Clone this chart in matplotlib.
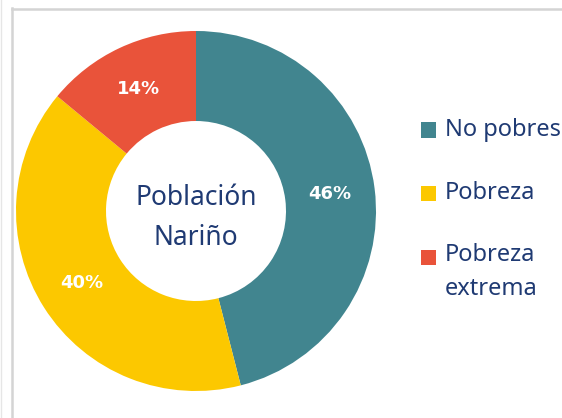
import matplotlib
matplotlib.use('Agg')
import matplotlib.pyplot as plt
from matplotlib.patches import Rectangle
from matplotlib.lines import Line2D

# data
categorias = ['No pobres', 'Pobreza', 'Pobreza\nextrema']
porcentajes = [46, 40, 14]
colores = ['#41858F', '#FCC800', '#E9533A']
centro_txt = 'Población\nNariño'

azul = '#1F3A73'
plt.rcParams['font.family'] = ['Noto Sans', 'DejaVu Sans']

W, H = 562, 418
fig = plt.figure(figsize=(W / 100, H / 100), dpi=100)

# grey frame of the original chart box
fig.add_artist(Line2D([11.5 / W, 11.5 / W], [0, 1 - 8 / H], color='#D4D4D4', lw=1.8))
fig.add_artist(Line2D([11.5 / W, 1], [1 - 8.5 / H, 1 - 8.5 / H], color='#D4D4D4', lw=1.8))
fig.add_artist(Line2D([1 / W, 1 / W], [0, 1], color='#E6E6E6', lw=1))

# donut axes: centre (196, 211) px, radius 180 px
cx, cy, R = 196, 211, 180
ax = fig.add_axes([(cx - R) / W, (H - cy - R) / H, 2 * R / W, 2 * R / H])
wedges, texts = ax.pie(porcentajes, colors=colores, startangle=90, counterclock=False,
                       radius=1, wedgeprops=dict(width=0.5, linewidth=0),
                       labels=[f'{p}%' for p in porcentajes], labeldistance=0.75,
                       textprops=dict(family=['DejaVu Sans'], fontweight='bold',
                                      fontsize=13, color='white'))
for t in texts:
    t.set_ha('center')
    t.set_va('center')
ax.set_xlim(-1, 1)
ax.set_ylim(-1, 1)
ax.axis('off')

ax.text(0, -0.04, centro_txt, ha='center', va='center', fontsize=19,
        color=azul, linespacing=1.55)

# legend drawn by hand
ys = [130, 193, 257]
for cat, col, y in zip(categorias, colores, ys):
    fig.add_artist(Rectangle((421 / W, 1 - (y + 7.5) / H), 15 / W, 15 / H,
                             facecolor=col, edgecolor='none'))
    if '\n' in cat:
        fig.text(445 / W, 1 - (y - 14) / H, cat, ha='left', va='top',
                 fontsize=17, color=azul, linespacing=1.55)
    else:
        fig.text(445 / W, 1 - y / H, cat, ha='left', va='center',
                 fontsize=17, color=azul)

fig.savefig('out.png', dpi=100, facecolor='white')
